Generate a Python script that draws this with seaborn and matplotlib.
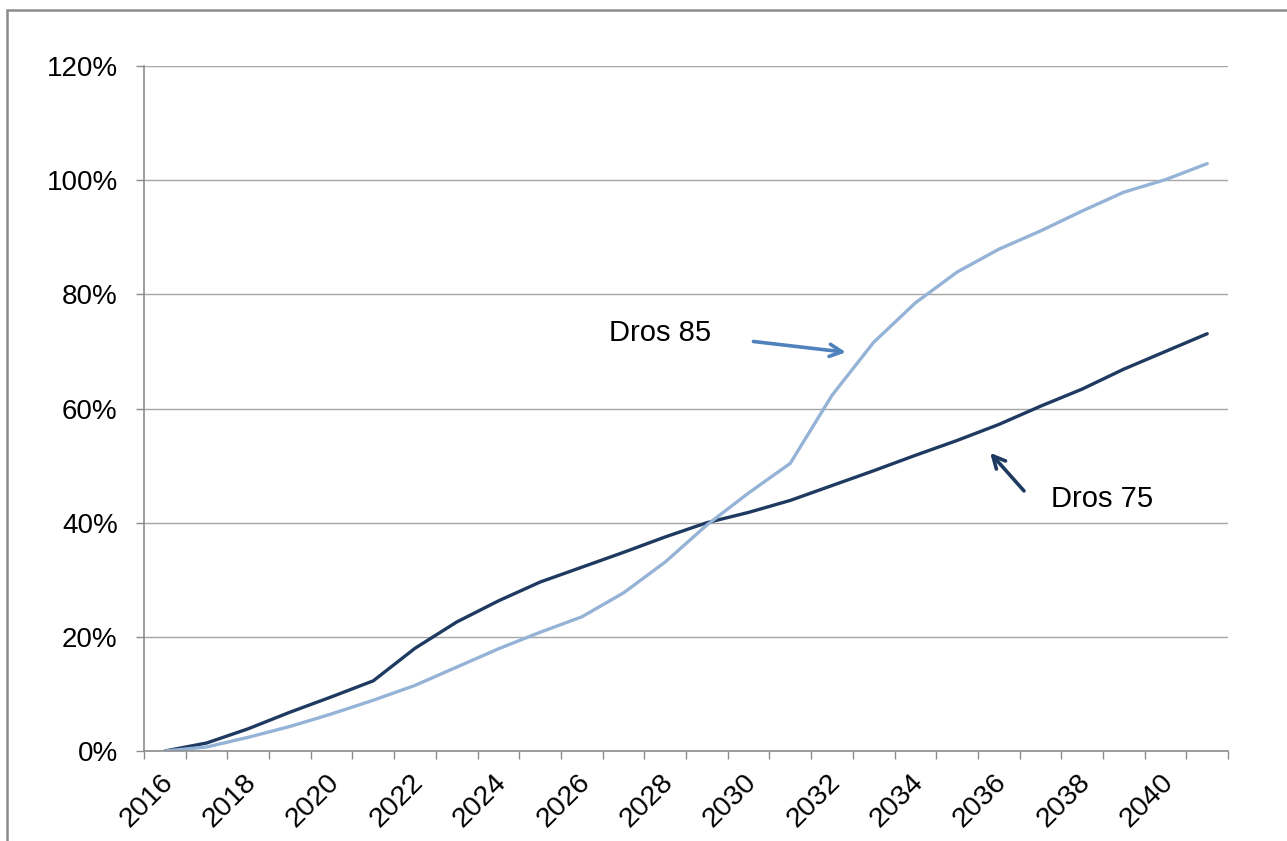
import numpy as np
import pandas as pd
import matplotlib
matplotlib.use("Agg")
import matplotlib.pyplot as plt
import matplotlib.transforms as mtransforms
from matplotlib.patches import Rectangle
from matplotlib.ticker import FixedLocator, FuncFormatter
import seaborn as sns

YEARS = list(range(2016, 2042))
DROS_75 = [0.0, 1.4, 3.9, 6.8, 9.5, 12.3, 18.0, 22.6, 26.3, 29.6, 32.2, 34.8, 37.5,
           40.0, 41.8, 43.9, 46.5, 49.1, 51.8, 54.4, 57.2, 60.4, 63.4, 66.9, 70.0, 73.1]
DROS_85 = [0.0, 0.7, 2.4, 4.3, 6.5, 8.9, 11.5, 14.7, 17.9, 20.8, 23.5, 27.7, 33.1,
           39.6, 45.2, 50.4, 62.3, 71.6, 78.5, 83.9, 87.9, 91.1, 94.6, 97.9, 100.1, 102.9]
SERIES = ["Dros 75", "Dros 85"]
PALETTE = {"Dros 75": "#1F3A60", "Dros 85": "#95B3D7"}

df = pd.DataFrame({
    "idx": list(range(len(YEARS))) * 2,
    "value": DROS_75 + DROS_85,
    "series": [SERIES[0]] * len(YEARS) + [SERIES[1]] * len(YEARS),
})

sns.set_style("white")
plt.rcParams["font.family"] = ["Liberation Sans", "DejaVu Sans"]
plt.rcParams["text.color"] = "black"
plt.rcParams["xtick.color"] = "black"
plt.rcParams["ytick.color"] = "black"

fig = plt.figure(figsize=(12.87, 8.41), dpi=100)
ax = fig.add_axes([0.1119, 0.1070, 0.9542 - 0.1119, 0.9215 - 0.1070])

sns.lineplot(data=df, x="idx", y="value", hue="series", hue_order=SERIES,
             palette=PALETTE, linewidth=2.4, legend=False, ax=ax)

ax.set_xlim(-0.5, len(YEARS) - 0.5)
ax.set_ylim(0, 120)
ax.set_xlabel("")
ax.set_ylabel("")

# y axis
ax.set_yticks(np.arange(0, 121, 20))
ax.yaxis.set_major_formatter(FuncFormatter(lambda v, p: f"{v:.0f}%"))
ax.yaxis.grid(True, color="#A6A6A6", linewidth=1.0)
ax.xaxis.grid(False)
ax.tick_params(axis="y", length=6, width=1, color="#8C8C8C", labelcolor="black",
               pad=13, labelsize=20, direction="out", left=True)

# x axis: tick marks between categories, labels every 2 years
ax.set_xticks(list(range(0, len(YEARS), 2)))
ax.set_xticklabels([str(y) for y in YEARS[::2]], fontsize=20.5, color="black",
                   rotation=45, ha="right", rotation_mode="anchor")
ax.xaxis.set_minor_locator(FixedLocator(np.arange(-0.5, len(YEARS), 1.0)))
ax.tick_params(axis="x", which="major", length=0, pad=13)
ax.tick_params(axis="x", which="minor", length=6, width=1, color="#8C8C8C",
               direction="out", bottom=True)
shift = mtransforms.ScaledTranslation(-5 / 100, 0, fig.dpi_scale_trans)
for lbl in ax.get_xticklabels():
    lbl.set_transform(lbl.get_transform() + shift)

for side in ["top", "right"]:
    ax.spines[side].set_visible(False)
for side in ["left", "bottom"]:
    ax.spines[side].set_color("#8C8C8C")
    ax.spines[side].set_linewidth(1.2)

# annotations
ax.annotate("", xy=(16.4, 69.8), xytext=(14.05, 71.8),
            arrowprops=dict(arrowstyle="->", color="#4F81BD", lw=2.6,
                            mutation_scale=22))
ax.text(11.88, 73.2, "Dros 85", fontsize=21, ha="center", va="center")
ax.annotate("", xy=(19.75, 52.6), xytext=(20.65, 45.2),
            arrowprops=dict(arrowstyle="->", color="#1F3A60", lw=2.6,
                            mutation_scale=22))
ax.text(22.48, 44.1, "Dros 75", fontsize=21, ha="center", va="center")

# chart frame (extends beyond the cropped picture)
fig.add_artist(Rectangle((7 / 1287, -0.2), 1.3, 1.2 - 9.5 / 841,
                         transform=fig.transFigure, fill=False,
                         ec="#8C8C8C", lw=1.8))

fig.savefig("out.png", dpi=100, facecolor="white")
